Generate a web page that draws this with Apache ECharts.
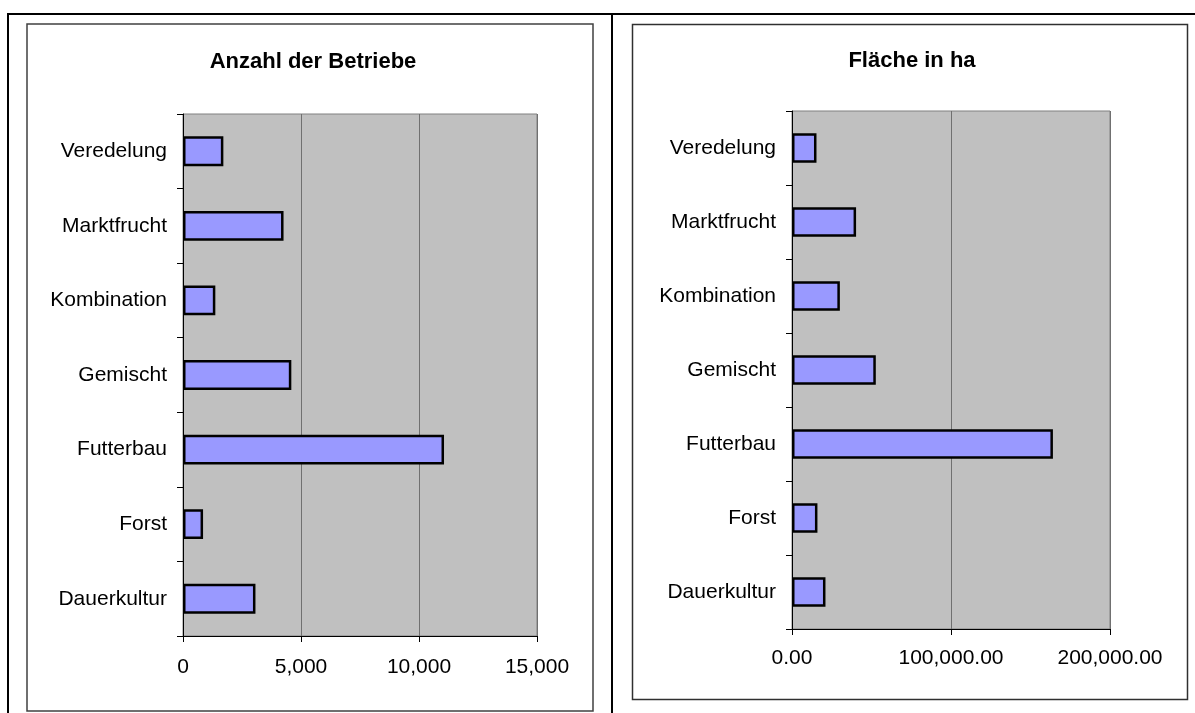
<!DOCTYPE html>
<html>
<head>
<meta charset="utf-8">
<script src="https://cdn.jsdelivr.net/npm/echarts@6/dist/echarts.min.js"></script>
<style>
  html, body { margin: 0; padding: 0; background: #fff; }
  #chart { width: 1195px; height: 713px; }
</style>
</head>
<body>
<div id="chart"></div>
<script>
// Betriebsformen, listed bottom-up as the category axis draws them
const categories = ['Dauerkultur', 'Forst', 'Futterbau', 'Gemischt', 'Kombination', 'Marktfrucht', 'Veredelung'];
// Anzahl der Betriebe
const betriebe = [3070, 850, 11060, 4590, 1370, 4260, 1710];
// Fläche in ha
const flaeche = [21050, 16000, 164100, 52700, 30100, 40300, 15400];

const titleLeft = 'Anzahl der Betriebe';
const titleRight = 'Fläche in ha';

const FONT = 'Liberation Sans, Arial, sans-serif';

const fmtInt = v => Math.round(v).toLocaleString('en-US');
const fmtDec = v => v.toLocaleString('en-US', { minimumFractionDigits: 2, maximumFractionDigits: 2 });

function valueAxis(gridIndex, max, interval, formatter, margin) {
  return {
    type: 'value', gridIndex, min: 0, max, interval,
    axisLine: { show: true, lineStyle: { color: '#000', width: 1 } },
    axisTick: { show: true, length: 6, lineStyle: { color: '#000' } },
    axisLabel: { color: '#000', fontFamily: FONT, fontSize: 21, margin, formatter },
    splitLine: { show: true, lineStyle: { color: '#707070', width: 1 } }
  };
}

function categoryAxis(gridIndex) {
  return {
    type: 'category', gridIndex, data: categories,
    axisLine: { show: true, lineStyle: { color: '#000', width: 1 } },
    axisTick: { show: true, length: 6, alignWithLabel: false, lineStyle: { color: '#000' } },
    axisLabel: { color: '#000', fontFamily: FONT, fontSize: 21, margin: 16 },
    splitLine: { show: false }
  };
}

function barSeries(axisIndex, data) {
  return {
    type: 'bar', xAxisIndex: axisIndex, yAxisIndex: axisIndex, data,
    barWidth: '40%',
    itemStyle: { color: '#9999FF', borderColor: '#000', borderWidth: 2.5 },
    silent: true
  };
}

const chart = echarts.init(document.getElementById('chart'), null, { renderer: 'canvas' });
chart.setOption({
  animation: false,
  backgroundColor: '#fff',
  title: [
    { text: titleLeft, left: 308, top: 46, textAlign: 'center',
      textStyle: { fontFamily: FONT, fontSize: 22, fontWeight: 'bold', color: '#000' } },
    { text: titleRight, left: 907, top: 45, textAlign: 'center',
      textStyle: { fontFamily: FONT, fontSize: 22, fontWeight: 'bold', color: '#000' } }
  ],
  grid: [
    { left: 183, top: 114, width: 354, height: 522, show: true,
      backgroundColor: '#C0C0C0', borderColor: '#808080', borderWidth: 1 },
    { left: 792, top: 111, width: 318, height: 518, show: true,
      backgroundColor: '#C0C0C0', borderColor: '#808080', borderWidth: 1 }
  ],
  xAxis: [
    valueAxis(0, 15000, 5000, fmtInt, 21),
    valueAxis(1, 200000, 100000, fmtDec, 19)
  ],
  yAxis: [categoryAxis(0), categoryAxis(1)],
  series: [barSeries(0, betriebe), barSeries(1, flaeche)],
  graphic: [
    // table frame
    { type: 'line', shape: { x1: 7, y1: 14, x2: 1195, y2: 14 }, style: { stroke: '#000', lineWidth: 2 } },
    { type: 'line', shape: { x1: 8, y1: 13, x2: 8, y2: 713 }, style: { stroke: '#000', lineWidth: 2 } },
    { type: 'line', shape: { x1: 612, y1: 13, x2: 612, y2: 713 }, style: { stroke: '#000', lineWidth: 2 } },
    // chart boxes
    { type: 'rect', shape: { x: 27, y: 24, width: 566, height: 687 },
      style: { fill: 'none', stroke: '#404040', lineWidth: 1.5 } },
    { type: 'rect', shape: { x: 632.5, y: 24.5, width: 555, height: 675 },
      style: { fill: 'none', stroke: '#303030', lineWidth: 1.5 } }
  ]
});
</script>
</body>
</html>
